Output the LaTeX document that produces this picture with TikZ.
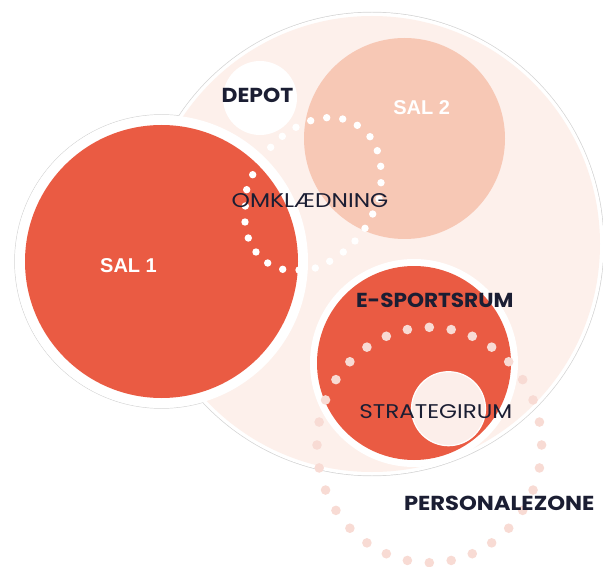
\documentclass[tikz,border=0pt]{standalone}
\usepackage{fontspec}
\usepackage{graphicx}
\newfontfamily\geo{Poppins}
\newfontfamily\arl{Liberation Sans}
\newcommand{\fitlab}[3]{\resizebox{#1}{#2}{#3}}
\definecolor{bigpink}{HTML}{FDF0EB}
\definecolor{salred}{HTML}{EA5B43}
\definecolor{saltwo}{HTML}{F7C8B5}
\definecolor{stratfill}{HTML}{FCEEEA}
\definecolor{dotpink}{HTML}{F8DBD4}
\definecolor{ink}{HTML}{1B1E33}
\definecolor{rim}{HTML}{D4D4D4}
\tikzset{
  disc/.style={circle, inner sep=0pt, outer sep=0pt, minimum size=#1},
  boldlabel/.style={font=\geo\bfseries\fontsize{20.5}{24}\selectfont, text=ink, inner sep=0pt},
  thinlabel/.style={font=\geo\fontsize{20.5}{24}\selectfont, text=ink, inner sep=0pt},
  sallabel/.style={font=\arl\bfseries\fontsize{20}{24}\selectfont, text=white, inner sep=0pt},
  whitedot/.style={fill=white},
  pinkdot/.style={fill=dotpink}
}
\begin{document}
\begin{tikzpicture}[x=1pt,y=-1pt]
\useasboundingbox (0,0) rectangle (603,567);
% outer grey contour of the union
\node[disc=464.4pt, fill=rim] (bigrim) at (372,244) {};
\node[disc=294.4pt, fill=rim] (sal1rim) at (161.5,261.5) {};
\node[disc=463pt, fill=white] (bigwhite) at (372,244) {};
\node[disc=293pt, fill=white] (sal1white) at (161.5,261.5) {};
% big light circle
\node[disc=456pt, fill=bigpink] (big) at (372,244) {};
% SAL 1
\node[disc=293pt, fill=white] (sal1ring) at (161.5,261.5) {};
\node[disc=273pt, fill=salred] (sal1) at (161.5,261.5) {};
% SAL 2 and DEPOT
\node[disc=201pt, fill=saltwo] (sal2) at (404.5,138.5) {};
\node[disc=74pt, fill=white] (depot) at (260,98) {};
% E-sports room
\node[disc=208pt, fill=white] (esring) at (414,363) {};
\node[disc=194pt, fill=salred] (es) at (414,363) {};
\node[disc=74pt, fill=stratfill, draw=white, line width=1.2pt] (strat) at (448.5,408.7) {};
% white dotted loop (omklaedning)
\foreach \p in {(270.7,147.3),(282.3,136.3),(296,127.3),(310.7,120.7),(326.7,117.7),
  (342.7,119),(357.3,125.3),(370,136.7),(377.3,150.7),(380.7,166.3),(381,182.7),
  (379,199),(372.7,214),(365,228.3),(355,241),(343.3,252),(329.7,261.3),(315.3,268),
  (299,270),(282.7,269.3),(267.7,263),(256,252),(248.3,238),(245,222),(245.3,206),
  (246.7,189.7),(252.7,174.7),(261,161)}
  \fill[whitedot] \p circle (3.7pt);
% pink dotted loop (personalezone)
\foreach \k in {0,...,31}
  \fill[pinkdot] ({429.3+112.3*cos(90+\k*11.25)},{445-117.7*sin(90+\k*11.25)}) circle (4.8pt);
% labels
\node[boldlabel] (tdepot) at (257.5,95.5) {\fitlab{71.6pt}{14.4pt}{DEPOT}};
\node[sallabel] (tsal1) at (128.5,265.3) {SAL 1};
\node[sallabel] (tsal2) at (421.7,107.9) {SAL 2};
\node[thinlabel] (tomk) at (310,200.3) {\fitlab{156.6pt}{14pt}{OMKLÆDNING}};
\node[boldlabel] (tes) at (434.7,300.5) {\fitlab{157.3pt}{14.4pt}{E-SPORTSRUM}};
\node[thinlabel] (tstrat) at (435.8,411.3) {\fitlab{153pt}{14pt}{STRATEGIRUM}};
\node[boldlabel] (tpers) at (499.2,502.9) {\fitlab{190.3pt}{14.4pt}{PERSONALEZONE}};
\end{tikzpicture}
\end{document}
